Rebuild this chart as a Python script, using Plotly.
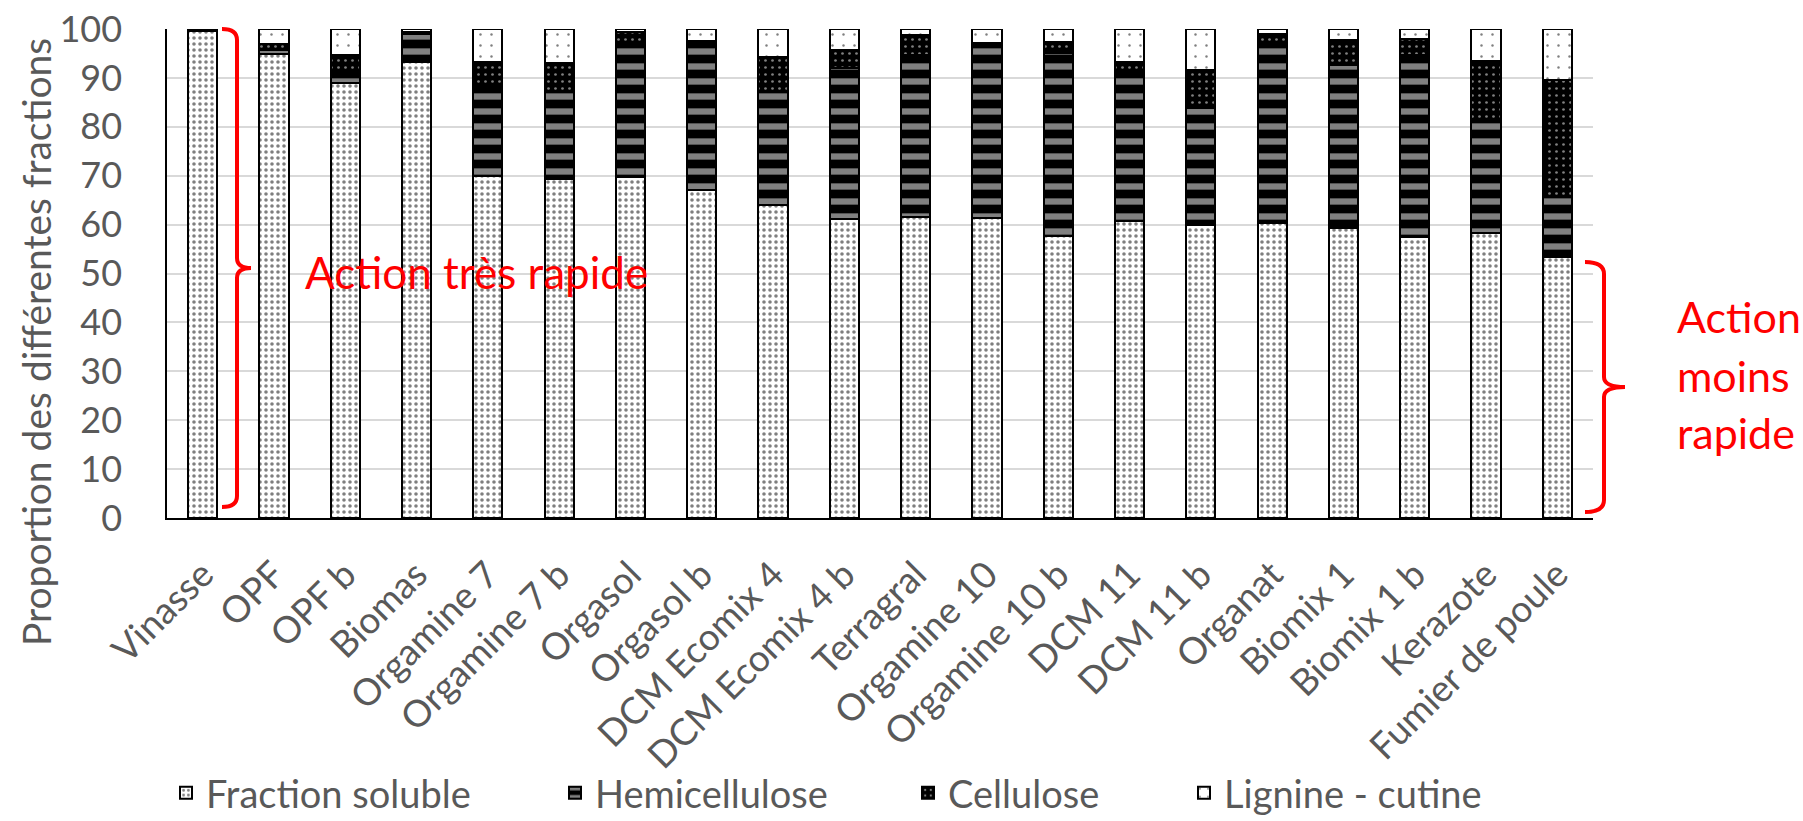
import plotly.graph_objects as go

categories = ["Vinasse", "OPF", "OPF b", "Biomas", "Orgamine 7", "Orgamine 7 b",
              "Orgasol", "Orgasol b", "DCM Ecomix 4", "DCM Ecomix 4 b", "Terragral",
              "Orgamine 10", "Orgamine 10 b", "DCM 11", "DCM 11 b", "Organat",
              "Biomix 1", "Biomix 1 b", "Kerazote", "Fumier de poule"]
soluble = [99.5, 94.8, 88.9, 93.2, 70.0, 69.3, 69.7, 67.1, 64.1, 61.1, 61.5, 61.3,
           57.7, 60.8, 59.9, 60.3, 59.4, 57.5, 58.2, 53.4]
hemicellulose = [0.4, 1.0, 2.4, 5.7, 18.1, 18.1, 27.7, 30.5, 23.3, 30.9, 33.2, 35.3,
                 37.3, 30.0, 23.9, 36.8, 33.2, 37.2, 22.8, 12.3]
cellulose = [0.05, 1.2, 3.4, 0.4, 5.2, 5.7, 1.9, 0.0, 6.9, 3.7, 4.1, 0.5,
             2.3, 2.5, 7.9, 1.8, 5.2, 3.3, 12.5, 23.8]
lignine = [0.05, 3.0, 5.3, 0.7, 6.7, 6.9, 0.7, 2.4, 5.7, 4.3, 1.2, 2.9,
           2.7, 6.7, 8.3, 1.1, 2.2, 2.0, 6.5, 10.5]
y_ticks = [0, 10, 20, 30, 40, 50, 60, 70, 80, 90, 100]

FONT = "Lato"
GREY = "#595959"
W, H = 1803, 821
ML, MR, MT, MB = 167, 210, 29, 303
PW, PH = W - ML - MR, H - MT - MB


def px(x):
    return (x - ML) / PW


def py(y):
    return (H - MB - y) / PH


series = [
    ("Fraction soluble", soluble, "legend",
     dict(shape=".", fgcolor="black", bgcolor="white", size=6, solidity=0.28), 166),
    ("Hemicellulose", hemicellulose, "legend2",
     dict(shape="-", fgcolor="white", bgcolor="black", size=15, solidity=0.42), 555),
    ("Cellulose", cellulose, "legend3",
     dict(shape=".", fgcolor="white", bgcolor="black", size=7, solidity=0.12), 908),
    ("Lignine - cutine", lignine, "legend4",
     dict(shape=".", fgcolor="black", bgcolor="white", size=11, solidity=0.04), 1184),
]

fig = go.Figure()
legends = {}
for name, vals, leg, pat, lx in series:
    fig.add_trace(go.Bar(
        x=categories, y=vals, name=name, legend=leg,
        marker=dict(color=pat["bgcolor"], line=dict(color="black", width=2),
                    pattern=dict(fillmode="overlay", **pat)),
    ))
    legends[leg] = dict(orientation="h", xref="container", yref="container",
                        x=lx / W, y=1 - 793 / H, xanchor="left", yanchor="middle",
                        font=dict(family=FONT, size=38, color=GREY),
                        bgcolor="rgba(0,0,0,0)")

left_brace = (f"M {px(222)},{py(29)} Q {px(237)},{py(29)} {px(237)},{py(40)} "
              f"L {px(237)},{py(258)} Q {px(237)},{py(268)} {px(251)},{py(268)} "
              f"Q {px(237)},{py(268)} {px(237)},{py(278)} L {px(237)},{py(496)} "
              f"Q {px(237)},{py(507)} {px(222)},{py(507)}")
right_brace = (f"M {px(1585)},{py(262)} Q {px(1604)},{py(262)} {px(1604)},{py(274)} "
               f"L {px(1604)},{py(377)} Q {px(1604)},{py(387)} {px(1625)},{py(387)} "
               f"Q {px(1604)},{py(387)} {px(1604)},{py(397)} L {px(1604)},{py(500)} "
               f"Q {px(1604)},{py(512)} {px(1585)},{py(512)}")

shapes = [
    dict(type="path", xref="paper", yref="paper", path=left_brace,
         line=dict(color="red", width=4)),
    dict(type="path", xref="paper", yref="paper", path=right_brace,
         line=dict(color="red", width=4)),
]

red = dict(family=FONT, size=43, color="red")
annotations = [
    dict(text="Proportion des différentes fractions", xref="paper", yref="paper",
         x=px(36), y=py(342), textangle=-90, showarrow=False,
         xanchor="center", yanchor="middle", font=dict(family=FONT, size=39, color=GREY)),
    dict(text="Action très rapide", xref="paper", yref="paper",
         x=px(303), y=py(272), showarrow=False, xanchor="left", yanchor="middle",
         font=dict(family=FONT, size=44, color="red")),
]
for txt, yy in [("Action", 317), ("moins", 375), ("rapide", 432)]:
    annotations.append(dict(text=txt, xref="paper", yref="paper", x=px(1675), y=py(yy),
                            showarrow=False, xanchor="left", yanchor="middle", font=red))

fig.update_layout(
    width=W, height=H, autosize=False,
    margin=dict(l=ML, r=MR, t=MT, b=MB, pad=0, autoexpand=False),
    barmode="stack", bargap=0.59,
    plot_bgcolor="white", paper_bgcolor="white",
    font=dict(family=FONT, size=36, color=GREY),
    showlegend=True,
    shapes=shapes, annotations=annotations,
    xaxis=dict(tickangle=-45, showline=True, linecolor="black", linewidth=2,
               tickfont=dict(family=FONT, size=37, color=GREY), ticks="",
               ticklabelstandoff=18, automargin=False),
    yaxis=dict(range=[0, 100], tickvals=y_ticks, showgrid=True, gridcolor="#d9d9d9",
               gridwidth=2, showline=True, linecolor="black", linewidth=1.5,
               zeroline=False, ticks="", ticklabelstandoff=36, automargin=False,
               tickfont=dict(family=FONT, size=36, color=GREY)),
    **legends,
)

fig.write_html("out.html")
